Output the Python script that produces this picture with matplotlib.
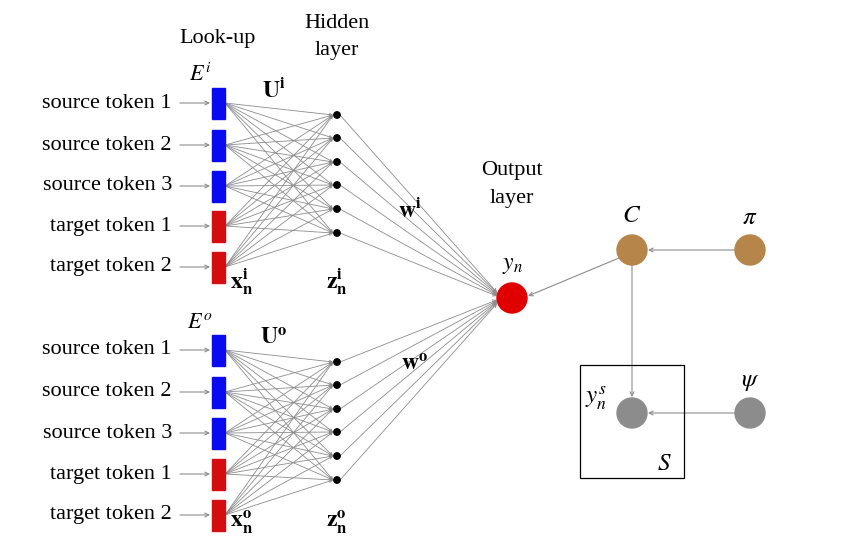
import matplotlib
matplotlib.use('Agg')
import matplotlib.pyplot as plt
from matplotlib.patches import Rectangle, Circle, FancyArrowPatch

plt.rcParams['font.family'] = 'Liberation Serif'
plt.rcParams['mathtext.fontset'] = 'stix'

# token labels and colours for each input block
tokens = ['source token 1', 'source token 2', 'source token 3',
          'target token 1', 'target token 2']
token_kind = ['source', 'source', 'source', 'target', 'target']
kind_color = {'source': '#0a0af0', 'target': '#d40e0e'}

top_token_y = [103, 145, 186, 226, 267]
bot_token_y = [350, 392, 433, 474, 515]
top_hidden_y = [115, 138, 162, 185, 209, 233]
bot_hidden_y = [362, 385, 409, 432, 456, 480]

BAR_X, BAR_W, BAR_H = 212, 13, 31
HID_X = 337
OUT = (512, 298)
C_POS, PI_POS = (632, 250), (750, 250)
YS_POS, PSI_POS = (632, 413), (750, 413)
GREY = '#8c8c8c'
BROWN = '#b5854a'
FS = 16

fig = plt.figure(figsize=(8.41, 5.51), dpi=100)
ax = fig.add_axes([0, 0, 1, 1])
ax.set_xlim(0, 841)
ax.set_ylim(551, 0)
ax.axis('off')


def arrow(p0, p1, color=GREY, lw=0.8, ms=7):
    ax.add_patch(FancyArrowPatch(p0, p1, arrowstyle='->', mutation_scale=ms,
                                 color=color, lw=lw, shrinkA=0, shrinkB=0))


def block(token_y, hidden_y):
    for name, kind, y in zip(tokens, token_kind, token_y):
        ax.text(172, y, name, ha='right', va='center', fontsize=FS)
        arrow((180, y), (BAR_X - 2, y))
        ax.add_patch(Rectangle((BAR_X, y - BAR_H / 2), BAR_W, BAR_H,
                               color=kind_color[kind], zorder=3))
        for hy in hidden_y:
            arrow((BAR_X + BAR_W, y), (HID_X - 4, hy), lw=0.6, ms=5)
    for hy in hidden_y:
        ax.add_patch(Circle((HID_X, hy), 3.2, color='black', zorder=4))
        arrow((HID_X + 3, hy), (OUT[0] - 15, OUT[1] + (hy - OUT[1]) * 0.03),
              lw=0.6, ms=6)


block(top_token_y, top_hidden_y)
block(bot_token_y, bot_hidden_y)

# header text
ax.text(218, 38, 'Look-up', ha='center', va='center', fontsize=FS)
ax.text(337, 24, 'Hidden', ha='center', va='center', fontsize=FS)
ax.text(337, 51, 'layer', ha='center', va='center', fontsize=FS)
ax.text(512, 170, 'Output', ha='center', va='center', fontsize=FS)
ax.text(512, 198, 'layer', ha='center', va='center', fontsize=FS)

# math labels
ax.text(200, 75, r'$E^i$', ha='center', va='center', fontsize=16)
ax.text(200, 323, r'$E^o$', ha='center', va='center', fontsize=16)
ax.text(274, 90, r'$\mathbf{U^i}$', ha='center', va='center', fontsize=17)
ax.text(274, 339, r'$\mathbf{U^o}$', ha='center', va='center', fontsize=17)
ax.text(242, 282, r'$\mathbf{x_n^i}$', ha='center', va='center', fontsize=17)
ax.text(242, 522, r'$\mathbf{x_n^o}$', ha='center', va='center', fontsize=17)
ax.text(337, 282, r'$\mathbf{z_n^i}$', ha='center', va='center', fontsize=17)
ax.text(337, 522, r'$\mathbf{z_n^o}$', ha='center', va='center', fontsize=17)
ax.text(410, 210, r'$\mathbf{w^i}$', ha='center', va='center', fontsize=17)
ax.text(415, 365, r'$\mathbf{w^o}$', ha='center', va='center', fontsize=17)
ax.text(512, 266, r'$y_n$', ha='center', va='center', fontsize=17)

# output and graphical model nodes
ax.add_patch(Circle(OUT, 15, color='#e00000', zorder=4))
for pos, col in [(C_POS, BROWN), (PI_POS, BROWN), (YS_POS, GREY), (PSI_POS, GREY)]:
    ax.add_patch(Circle(pos, 15, color=col, zorder=4))
ax.text(632, 216, r'$C$', ha='center', va='center', fontsize=18)
ax.text(750, 218, r'$\pi$', ha='center', va='center', fontsize=18)
ax.text(750, 382, r'$\psi$', ha='center', va='center', fontsize=18)
ax.text(596, 398, r'$y_n^s$', ha='center', va='center', fontsize=18)
ax.text(664, 464, r'$S$', ha='center', va='center', fontsize=18)

arrow((PI_POS[0] - 15, PI_POS[1]), (C_POS[0] + 16, C_POS[1]))
arrow((PSI_POS[0] - 15, PSI_POS[1]), (YS_POS[0] + 16, YS_POS[1]))
arrow((C_POS[0], C_POS[1] + 15), (YS_POS[0], YS_POS[1] - 16))
arrow((C_POS[0] - 13, C_POS[1] + 8), (OUT[0] + 16, OUT[1] - 2))
ax.add_patch(Rectangle((580, 365), 104, 113, fill=False, ec='black', lw=0.9))

fig.savefig('out.png', dpi=100)
